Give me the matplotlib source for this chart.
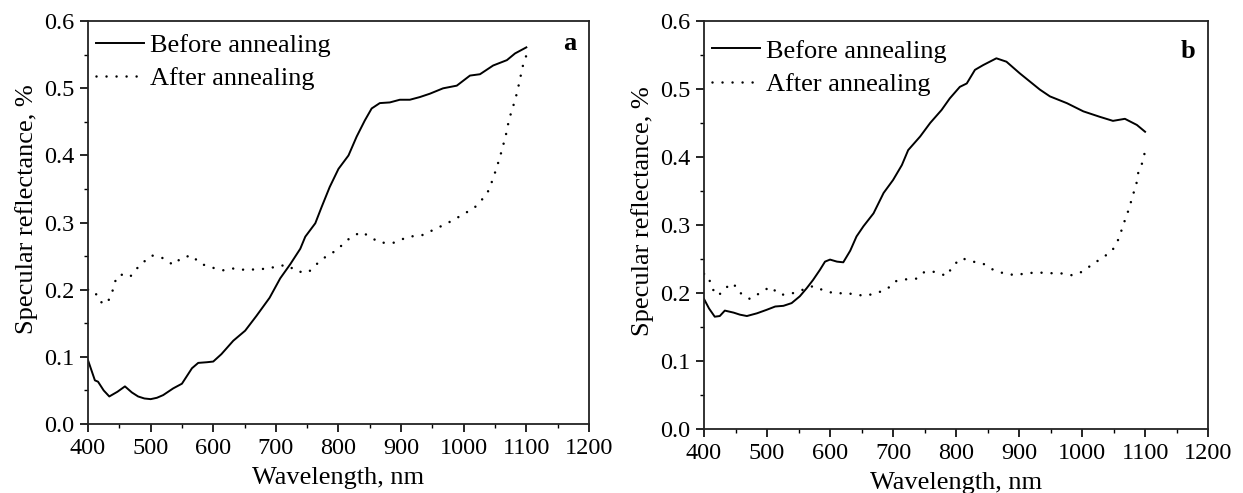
import matplotlib
matplotlib.use("Agg")
import matplotlib.pyplot as plt
from matplotlib.ticker import MultipleLocator

#panel a
a_before_x = [400, 411, 416, 425, 434, 447, 459, 470, 480, 490, 500, 510, 520, 536, 550, 566, 576, 590, 600, 613,
              632, 651, 669, 690, 707, 723, 739, 747, 763, 773, 786, 800, 816, 829, 842, 853, 866, 882, 898, 914,
              930, 946, 967, 989, 1010, 1026, 1047, 1069, 1082, 1100]
a_before_y = [0.095, 0.065, 0.063, 0.05, 0.041, 0.048, 0.056, 0.047, 0.041, 0.038, 0.037, 0.039, 0.043, 0.053, 0.06,
              0.083, 0.091, 0.092, 0.093, 0.104, 0.124, 0.139, 0.161, 0.188, 0.217, 0.238, 0.261, 0.279, 0.299, 0.323,
              0.353, 0.38, 0.4, 0.428, 0.452, 0.47, 0.478, 0.479, 0.483, 0.483, 0.487, 0.492, 0.5, 0.504, 0.519,
              0.521, 0.534, 0.542, 0.552, 0.561]
a_after_x = [400, 411, 419, 430, 438, 443, 451, 467, 483, 502, 520, 536, 550, 566, 579, 598, 616, 635, 653, 672,
             688, 704, 720, 733, 752, 765, 782, 798, 808, 821, 837, 850, 866, 888, 912, 933, 949, 967, 984, 1002,
             1016, 1029, 1040, 1047, 1052, 1058, 1063, 1068, 1071, 1076, 1082, 1086, 1090, 1094, 1100]
a_after_y = [0.2, 0.197, 0.182, 0.179, 0.194, 0.212, 0.223, 0.219, 0.237, 0.251, 0.247, 0.237, 0.248, 0.251, 0.239,
             0.233, 0.229, 0.232, 0.229, 0.231, 0.231, 0.236, 0.236, 0.227, 0.226, 0.238, 0.251, 0.259, 0.269, 0.279,
             0.286, 0.279, 0.27, 0.27, 0.279, 0.281, 0.288, 0.296, 0.304, 0.314, 0.321, 0.334, 0.348, 0.366, 0.38,
             0.398, 0.415, 0.433, 0.447, 0.465, 0.482, 0.497, 0.514, 0.532, 0.549]

#panel b
b_before_x = [400, 408, 417, 425, 433, 447, 457, 468, 484, 499, 513, 526, 539, 552, 563, 573, 584, 592, 600, 611,
              621, 632, 642, 653, 669, 685, 700, 714, 724, 743, 759, 777, 790, 806, 817, 830, 843, 864, 880, 901,
              933, 949, 976, 1002, 1028, 1049, 1068, 1087, 1100]
b_before_y = [0.191, 0.177, 0.165, 0.166, 0.174, 0.171, 0.168, 0.166, 0.17, 0.175, 0.18, 0.181, 0.185, 0.195, 0.207,
              0.219, 0.234, 0.246, 0.249, 0.246, 0.245, 0.262, 0.283, 0.298, 0.317, 0.347, 0.366, 0.388, 0.41, 0.43,
              0.45, 0.469, 0.486, 0.503, 0.508, 0.528, 0.535, 0.545, 0.54, 0.523, 0.499, 0.489, 0.479, 0.467, 0.459,
              0.453, 0.456, 0.447, 0.437]
b_after_x = [400, 407, 412, 423, 433, 447, 454, 473, 489, 505, 521, 539, 558, 573, 589, 608, 626, 642, 658, 674,
             690, 703, 721, 737, 750, 766, 785, 796, 809, 827, 843, 859, 875, 894, 912, 930, 949, 965, 984, 1000,
             1015, 1031, 1047, 1056, 1063, 1068, 1075, 1080, 1086, 1089, 1095, 1100]
b_after_y = [0.228, 0.225, 0.207, 0.196, 0.207, 0.214, 0.202, 0.191, 0.2, 0.209, 0.197, 0.199, 0.205, 0.21, 0.204,
             0.199, 0.2, 0.197, 0.196, 0.2, 0.205, 0.217, 0.22, 0.221, 0.231, 0.231, 0.225, 0.241, 0.251, 0.246,
             0.243, 0.234, 0.229, 0.226, 0.229, 0.23, 0.229, 0.229, 0.226, 0.231, 0.241, 0.251, 0.261, 0.275, 0.293,
             0.307, 0.325, 0.342, 0.359, 0.376, 0.39, 0.408]

plt.rcParams['font.family'] = ['Liberation Serif', 'DejaVu Serif']


def draw_panel(ax, bx, by, axx, ay, letter, leg_y, letter_y, ylab_y):
    ax.plot(bx, by, color='black', lw=1.4, label='Before annealing')
    ax.plot(axx, ay, color='black', lw=1.8, linestyle=(0, (0.01, 4.0)), dash_capstyle='round',
            label='After annealing')

    ax.set_xlim(400, 1200)
    ax.set_ylim(0, 0.6)
    ax.xaxis.set_major_locator(MultipleLocator(100))
    ax.xaxis.set_minor_locator(MultipleLocator(50))
    ax.yaxis.set_major_locator(MultipleLocator(0.1))
    ax.yaxis.set_minor_locator(MultipleLocator(0.05))
    ax.yaxis.set_major_formatter(plt.FuncFormatter(lambda v, p: f"{v:.1f}"))
    ax.tick_params(which='major', direction='out', length=6, width=1.2, labelsize=17.5, pad=4)
    ax.tick_params(which='minor', direction='out', length=3, width=1.0)
    for sp in ax.spines.values():
        sp.set_linewidth(1.3)
        sp.set_color('#222222')

    ax.set_xlabel("Wavelength, nm", fontsize=19, labelpad=6)
    ax.set_ylabel("Specular reflectance, %", fontsize=19)
    ax.yaxis.set_label_coords(-0.10, ylab_y)

    ax.legend(loc='upper left', bbox_to_anchor=(0.016, leg_y), frameon=False, fontsize=19,
              handlelength=1.8, handletextpad=0.25, borderpad=0, borderaxespad=0, labelspacing=0.37)
    ax.text(0.961, letter_y, letter, transform=ax.transAxes, fontsize=19, fontweight='bold',
            ha='center', va='baseline')


fig = plt.figure(figsize=(12.43, 4.93), dpi=100)
ax1 = fig.add_axes([0.0708, 0.140, 0.403, 0.817])
ax2 = fig.add_axes([0.5664, 0.130, 0.4055, 0.8276])

draw_panel(ax1, a_before_x, a_before_y, a_after_x, a_after_y, 'a', 0.97, 0.928, 0.533)
draw_panel(ax2, b_before_x, b_before_y, b_after_x, b_after_y, 'b', 0.955, 0.909, 0.534)

fig.savefig('out.png', dpi=100)
